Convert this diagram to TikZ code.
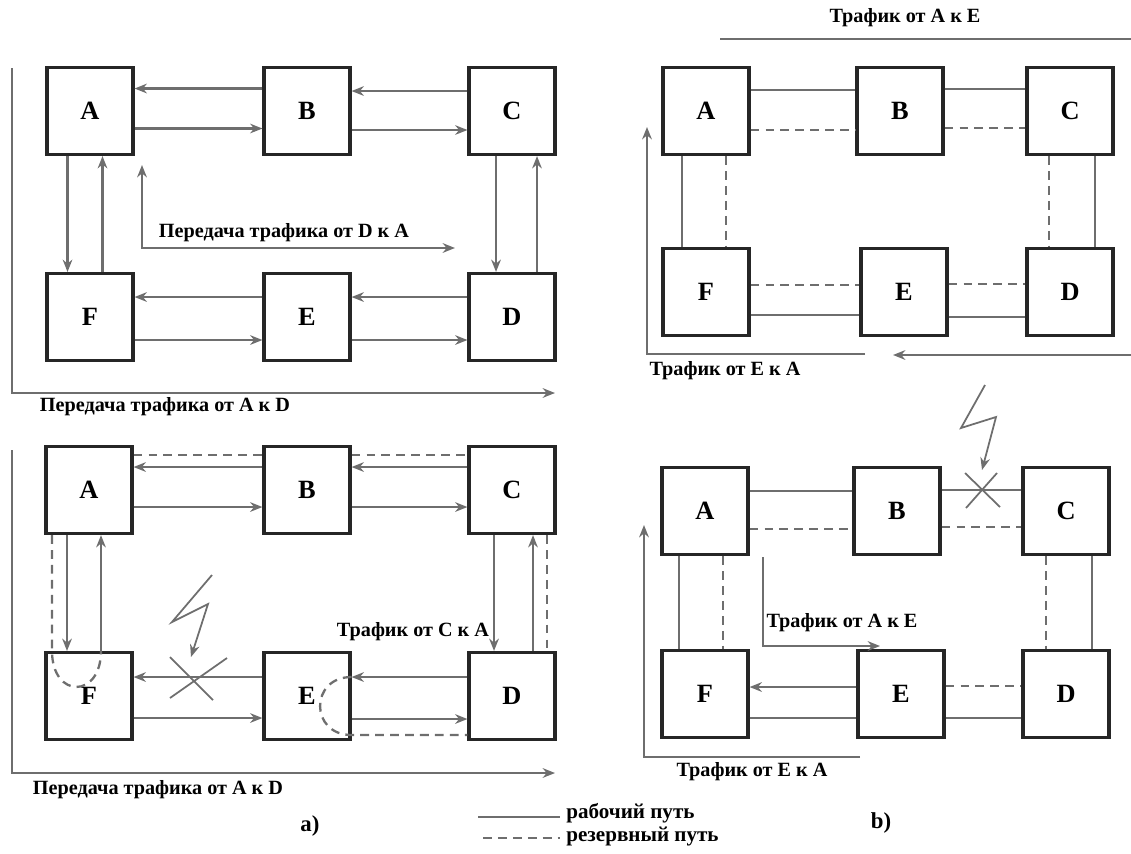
\documentclass[tikz,border=0pt]{standalone}
\usepackage{fontspec}
\setmainfont{Liberation Serif}
\usepackage{tikz}
\usetikzlibrary{arrows.meta}

\definecolor{linkgray}{HTML}{6E6E6E}
\definecolor{boxline}{HTML}{262626}

\tikzset{
  box/.style={draw=boxline,line width=1.8pt,fill=white,minimum width=1.72cm,minimum height=1.74cm,
    font=\fontsize{15}{18}\selectfont\bfseries},
  link/.style={draw=linkgray,line width=1.3pt},
  spare/.style={link,dash pattern=on 5pt off 3.5pt},
  bolt/.style={draw=linkgray,line width=1pt},
  lbl/.style={font=\fontsize{11.5}{13}\selectfont\bfseries,inner sep=1pt},
  legtxt/.style={font=\fontsize{12}{13}\selectfont\bfseries,inner sep=0pt,anchor=west},
  captxt/.style={font=\fontsize{13}{15}\selectfont\bfseries,inner sep=1pt}
}

\begin{document}
\begin{tikzpicture}[>={Stealth[length=7pt,width=5.5pt]},x=0.02cm,y=-0.02cm]
	  \useasboundingbox (0,0) rectangle (1131,853);
	  % a) ring, all paths working
	  \node[box] (a1A) at (90,111) {A};
	  \node[box] (a1B) at (307,111) {B};
	  \node[box] (a1C) at (512,111) {C};
	  \node[box] (a1F) at (90,317) {F};
	  \node[box] (a1E) at (307,317) {E};
	  \node[box] (a1D) at (512,317) {D};
	  \draw[link,->] ([yshift=0.45cm]a1B.west) -- ([yshift=0.45cm]a1A.east);
	  \draw[link,->] ([yshift=-0.35cm]a1A.east) -- ([yshift=-0.35cm]a1B.west);
	  \draw[link,->] ([yshift=0.4cm]a1C.west) -- ([yshift=0.4cm]a1B.east);
	  \draw[link,->] ([yshift=-0.38cm]a1B.east) -- ([yshift=-0.38cm]a1C.west);
	  \draw[link,->] ([xshift=-0.45cm]a1A.south) -- ([xshift=-0.45cm]a1F.north);
	  \draw[link,->] ([xshift=0.25cm]a1F.north) -- ([xshift=0.25cm]a1A.south);
	  \draw[link,->] ([xshift=-0.32cm]a1C.south) -- ([xshift=-0.32cm]a1D.north);
	  \draw[link,->] ([xshift=0.5cm]a1D.north) -- ([xshift=0.5cm]a1C.south);
	  \draw[link,->] ([yshift=0.4cm]a1E.west) -- ([yshift=0.4cm]a1F.east);
	  \draw[link,->] ([yshift=-0.46cm]a1F.east) -- ([yshift=-0.46cm]a1E.west);
	  \draw[link,->] ([yshift=0.4cm]a1D.west) -- ([yshift=0.4cm]a1E.east);
	  \draw[link,->] ([yshift=-0.46cm]a1E.east) -- ([yshift=-0.46cm]a1D.west);
	  \coordinate (a1s) at (12,68);
	  \coordinate (a1t) at (555,393);
	  \draw[link,->] (a1s) |- (a1t);
	  \node[lbl] (a1out) at (165,407) {Передача трафика от A к D};
	  \coordinate (a1u) at (142,165);
	  \coordinate (a1v) at (455,248);
	  \draw[link,<->] (a1u) |- (a1v);
	  \node[lbl] (a1in) at (284,233) {Передача трафика от D к A};
	  % a) ring, link F-E broken
	  \node[box] (a2A) at (89,490) {A};
	  \node[box] (a2B) at (307,490) {B};
	  \node[box] (a2C) at (512,490) {C};
	  \node[box] (a2F) at (89,696) {F};
	  \node[box] (a2E) at (307,696) {E};
	  \node[box] (a2D) at (512,696) {D};
	  \draw[spare] ([yshift=0.7cm]a2A.east) -- ([yshift=0.7cm]a2B.west);
	  \draw[spare] ([yshift=0.7cm]a2B.east) -- ([yshift=0.7cm]a2C.west);
	  \draw[link,->] ([yshift=0.46cm]a2B.west) -- ([yshift=0.46cm]a2A.east);
	  \draw[link,->] ([yshift=-0.34cm]a2A.east) -- ([yshift=-0.34cm]a2B.west);
	  \draw[link,->] ([yshift=0.46cm]a2C.west) -- ([yshift=0.46cm]a2B.east);
	  \draw[link,->] ([yshift=-0.34cm]a2B.east) -- ([yshift=-0.34cm]a2C.west);
	  \draw[spare] ([xshift=-0.74cm]a2A.south) -- ([xshift=-0.74cm]a2F.north)
	    .. controls +(0,48) and +(0,48) .. ([xshift=0.24cm]a2F.north);
	  \draw[link,->] ([xshift=-0.44cm]a2A.south) -- ([xshift=-0.44cm]a2F.north);
	  \draw[link,->] ([xshift=0.24cm]a2F.north) -- ([xshift=0.24cm]a2A.south);
	  \draw[link,->] ([xshift=-0.36cm]a2C.south) -- ([xshift=-0.36cm]a2D.north);
	  \draw[link,->] ([xshift=0.42cm]a2D.north) -- ([xshift=0.42cm]a2C.south);
	  \draw[spare] ([xshift=0.7cm]a2C.south) -- ([xshift=0.7cm]a2D.north);
	  \draw[link,->] ([yshift=0.38cm]a2E.west) -- ([yshift=0.38cm]a2F.east);
	  \draw[link,->] ([yshift=-0.44cm]a2F.east) -- ([yshift=-0.44cm]a2E.west);
	  \draw[link,->] ([yshift=0.38cm]a2D.west) -- ([yshift=0.38cm]a2E.east);
	  \draw[link,->] ([yshift=-0.46cm]a2E.east) -- ([yshift=-0.46cm]a2D.west);
	  \draw[spare] ([yshift=0.38cm]a2E.east) .. controls +(-42,0) and +(-42,0) .. ([yshift=-0.78cm]a2E.east)
	    -- ([yshift=-0.78cm]a2D.west);
	  \draw[bolt,->] (212,575) -- (172,622) -- (208,604) -- (191,657);
	  \draw[bolt] (170,657) -- (213,700) (227,658) -- (170,698);
	  \node[lbl] (a2cd) at (413,632) {Трафик от C к A};
	  \coordinate (a2s) at (12,450);
	  \coordinate (a2t) at (555,773);
	  \draw[link,->] (a2s) |- (a2t);
	  \node[lbl] (a2out) at (158,790) {Передача трафика от A к D};
	  % b) ring with working and spare paths
	  \node[box] (b1A) at (706,111) {A};
	  \node[box] (b1B) at (900,111) {B};
	  \node[box] (b1C) at (1070,111) {C};
	  \node[box] (b1F) at (706,292) {F};
	  \node[box] (b1E) at (904,292) {E};
	  \node[box] (b1D) at (1070,292) {D};
	  \draw[link] ([yshift=0.42cm]b1A.east) -- ([yshift=0.42cm]b1B.west);
	  \draw[spare] ([yshift=-0.38cm]b1A.east) -- ([yshift=-0.38cm]b1B.west);
	  \draw[link] ([yshift=0.44cm]b1B.east) -- ([yshift=0.44cm]b1C.west);
	  \draw[spare] ([yshift=-0.34cm]b1B.east) -- ([yshift=-0.34cm]b1C.west);
	  \draw[link] ([xshift=-0.48cm]b1A.south) -- ([xshift=-0.48cm]b1F.north);
	  \draw[spare] ([xshift=0.4cm]b1A.south) -- ([xshift=0.4cm]b1F.north);
	  \draw[spare] ([xshift=-0.42cm]b1C.south) -- ([xshift=-0.42cm]b1D.north);
	  \draw[link] ([xshift=0.5cm]b1C.south) -- ([xshift=0.5cm]b1D.north);
	  \draw[spare] ([yshift=0.14cm]b1F.east) -- ([yshift=0.14cm]b1E.west);
	  \draw[link] ([yshift=-0.46cm]b1F.east) -- ([yshift=-0.46cm]b1E.west);
	  \draw[spare] ([yshift=0.16cm]b1E.east) -- ([yshift=0.16cm]b1D.west);
	  \draw[link] ([yshift=-0.5cm]b1E.east) -- ([yshift=-0.5cm]b1D.west);
	  \coordinate (b1p) at (720,39);
	  \coordinate (b1q) at (1131,39);
	  \draw[link] (b1p) -- (b1q);
	  \node[lbl] (b1top) at (905,18) {Трафик от A к E};
	  \coordinate (b1r) at (1131,355);
	  \coordinate (b1s) at (893,355);
	  \draw[link,->] (b1r) -- (b1s);
	  \coordinate (b1t) at (865,354);
	  \coordinate (b1u) at (647,127);
	  \draw[link,->] (b1t) -| (b1u);
	  \node[lbl] (b1bot) at (725,371) {Трафик от E к A};
	  % b) ring, link B-C broken
	  \node[box] (b2A) at (705,511) {A};
	  \node[box] (b2B) at (897,511) {B};
	  \node[box] (b2C) at (1066,511) {C};
	  \node[box] (b2F) at (705,694) {F};
	  \node[box] (b2E) at (901,694) {E};
	  \node[box] (b2D) at (1066,694) {D};
	  \draw[link] ([yshift=0.4cm]b2A.east) -- ([yshift=0.4cm]b2B.west);
	  \draw[spare] ([yshift=-0.36cm]b2A.east) -- ([yshift=-0.36cm]b2B.west);
	  \draw[link] ([yshift=0.42cm]b2B.east) -- ([yshift=0.42cm]b2C.west);
	  \draw[spare] ([yshift=-0.32cm]b2B.east) -- ([yshift=-0.32cm]b2C.west);
	  \draw[link] ([xshift=-0.52cm]b2A.south) -- ([xshift=-0.52cm]b2F.north);
	  \draw[spare] ([xshift=0.36cm]b2A.south) -- ([xshift=0.36cm]b2F.north);
	  \draw[spare] ([xshift=-0.4cm]b2C.south) -- ([xshift=-0.4cm]b2D.north);
	  \draw[link] ([xshift=0.52cm]b2C.south) -- ([xshift=0.52cm]b2D.north);
	  \draw[link,->] ([yshift=0.14cm]b2E.west) -- ([yshift=0.14cm]b2F.east);
	  \draw[link] ([yshift=-0.48cm]b2F.east) -- ([yshift=-0.48cm]b2E.west);
	  \draw[spare] ([yshift=0.16cm]b2E.east) -- ([yshift=0.16cm]b2D.west);
	  \draw[link] ([yshift=-0.48cm]b2E.east) -- ([yshift=-0.48cm]b2D.west);
	  \draw[bolt,->] (985,385) -- (961,428) -- (996,417) -- (982,470);
	  \draw[bolt] (965,473) -- (1000,507) (997,473) -- (966,508);
	  \coordinate (b2p) at (763,557);
	  \coordinate (b2q) at (880,646);
	  \draw[link,->] (b2p) |- (b2q);
	  \node[lbl] (b2in) at (842,623) {Трафик от A к E};
	  \coordinate (b2r) at (860,757);
	  \coordinate (b2s) at (644,525);
	  \draw[link,->] (b2r) -| (b2s);
	  \node[lbl] (b2out) at (752,772) {Трафик от E к A};
	  % legend and captions
	  \coordinate (g1) at (478,817);
	  \coordinate (g2) at (560,817);
	  \draw[link] (g1) -- (g2);
	  \node[legtxt] (work) at (566,813) {рабочий путь};
	  \coordinate (g3) at (483,838);
	  \coordinate (g4) at (560,838);
	  \draw[spare] (g3) -- (g4);
	  \node[legtxt] (backup) at (566,836) {резервный путь};
	  \node[captxt] (capa) at (310,826) {а)};
	  \node[captxt] (capb) at (881,823) {b)};
	\end{tikzpicture}
\end{document}
